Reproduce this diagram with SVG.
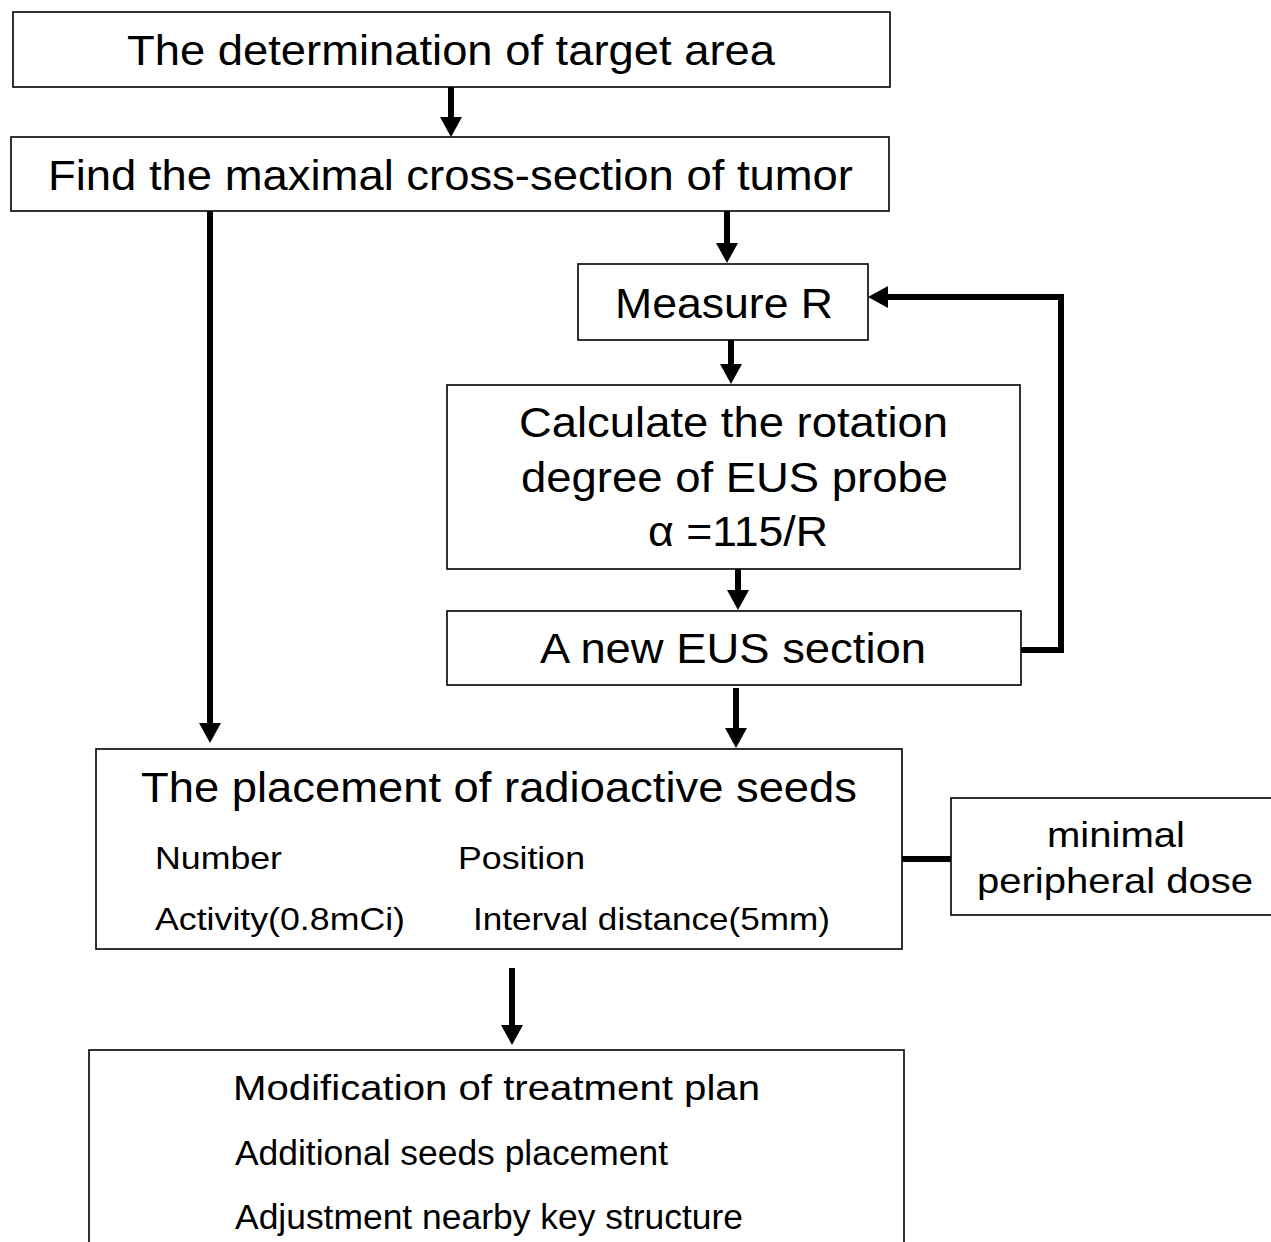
<svg xmlns="http://www.w3.org/2000/svg" width="1271" height="1242" viewBox="0 0 1271 1242">
<defs>
<marker id="ah" viewBox="0 0 20 22" refX="14" refY="11" markerWidth="20" markerHeight="22" markerUnits="userSpaceOnUse" orient="auto">
<path d="M0,0 L20,11 L0,22 z" fill="#000"/>
</marker>
<style>
.box{fill:#fff;stroke:#000;stroke-width:1.6}
.t{font-family:"Liberation Sans",Arial,sans-serif;fill:#000}
.c{text-anchor:middle}
.big{font-size:43px}
.mid{font-size:35px}
.sm{font-size:32px}
.con{fill:none;stroke:#000;stroke-width:6}
</style>
</defs>
<rect width="1271" height="1242" fill="#fff"/>
<g id="connectors">
<line class="con" x1="451" y1="87" x2="451" y2="131" marker-end="url(#ah)"/>
<line class="con" x1="727" y1="211" x2="727" y2="257" marker-end="url(#ah)"/>
<line class="con" x1="210" y1="211" x2="210" y2="737" marker-end="url(#ah)"/>
<line class="con" x1="731" y1="340" x2="731" y2="378" marker-end="url(#ah)"/>
<line class="con" x1="738" y1="569" x2="738" y2="604" marker-end="url(#ah)"/>
<line class="con" x1="736" y1="688" x2="736" y2="742" marker-end="url(#ah)"/>
<path class="con" d="M1021,650 H1061 V297 H874" marker-end="url(#ah)"/>
<line class="con" x1="512" y1="968" x2="512" y2="1039" marker-end="url(#ah)"/>
<line class="con" x1="902" y1="859" x2="951" y2="859"/>
</g>
<g id="n1"><rect class="box" x="13" y="12" width="877" height="75"/>
<text class="t big" x="127" y="65" textLength="648" lengthAdjust="spacingAndGlyphs">The determination of target area</text></g>
<g id="n2"><rect class="box" x="11" y="137" width="878" height="74"/>
<text class="t big" x="48" y="190" textLength="805" lengthAdjust="spacingAndGlyphs">Find the maximal cross-section of tumor</text></g>
<g id="n3"><rect class="box" x="578" y="264" width="290" height="76"/>
<text class="t big" x="615" y="318" textLength="218" lengthAdjust="spacingAndGlyphs">Measure R</text></g>
<g id="n4"><rect class="box" x="447" y="385" width="573" height="184"/>
<text class="t big" x="519" y="437" textLength="429" lengthAdjust="spacingAndGlyphs">Calculate the rotation</text>
<text class="t big" x="521" y="492" textLength="427" lengthAdjust="spacingAndGlyphs">degree of EUS probe</text>
<text class="t big" x="648" y="546" textLength="180" lengthAdjust="spacingAndGlyphs">α =115/R</text></g>
<g id="n5"><rect class="box" x="447" y="611" width="574" height="74"/>
<text class="t big" x="540" y="663" textLength="386" lengthAdjust="spacingAndGlyphs">A new EUS section</text></g>
<g id="n6"><rect class="box" x="96" y="749" width="806" height="200"/>
<text class="t big" x="141" y="802" textLength="716" lengthAdjust="spacingAndGlyphs">The placement of radioactive seeds</text>
<text class="t sm" x="155" y="869" textLength="127" lengthAdjust="spacingAndGlyphs">Number</text>
<text class="t sm" x="458" y="869" textLength="127" lengthAdjust="spacingAndGlyphs">Position</text>
<text class="t sm" x="155" y="930" textLength="250" lengthAdjust="spacingAndGlyphs">Activity(0.8mCi)</text>
<text class="t sm" x="473" y="930" textLength="357" lengthAdjust="spacingAndGlyphs">Interval distance(5mm)</text></g>
<g id="n7"><rect class="box" x="951" y="798" width="325" height="117"/>
<text class="t mid" x="1047" y="847" textLength="138" lengthAdjust="spacingAndGlyphs">minimal</text>
<text class="t mid" x="977" y="893" textLength="276" lengthAdjust="spacingAndGlyphs">peripheral dose</text></g>
<g id="n8"><rect class="box" x="89" y="1050" width="815" height="200"/>
<text class="t mid" x="233" y="1100" textLength="527" lengthAdjust="spacingAndGlyphs">Modification of treatment plan</text>
<text class="t mid" x="235" y="1165" textLength="433" lengthAdjust="spacingAndGlyphs">Additional seeds placement</text>
<text class="t mid" x="235" y="1229" textLength="508" lengthAdjust="spacingAndGlyphs">Adjustment nearby key structure</text></g>
</svg>
